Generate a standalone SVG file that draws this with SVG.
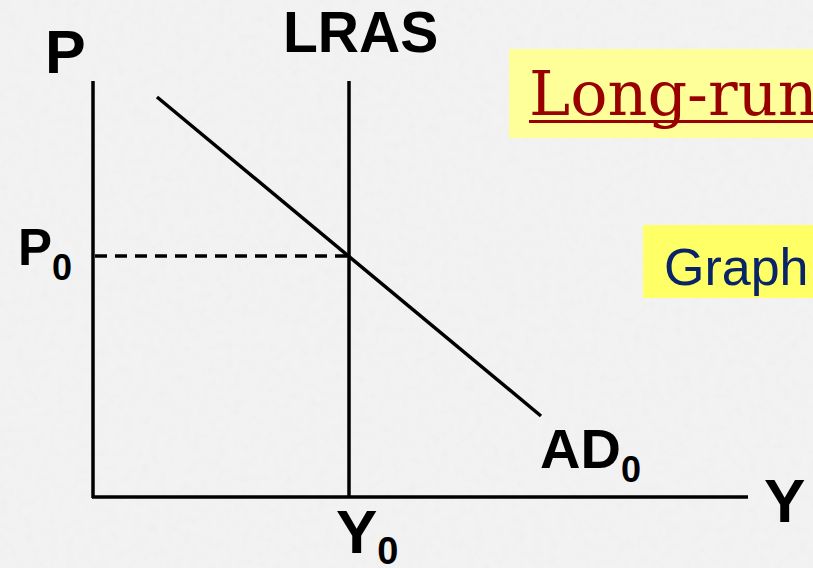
<svg xmlns="http://www.w3.org/2000/svg" width="813" height="568" viewBox="0 0 813 568">
<defs>
<filter id="paper" x="0" y="0" width="100%" height="100%">
<feTurbulence type="fractalNoise" baseFrequency="0.12" numOctaves="3" seed="4" result="n"/>
<feColorMatrix in="n" type="matrix" values="0 0 0 0 0.85  0 0 0 0 0.85  0 0 0 0 0.85  0 0 0 -2 1.05" result="t"/>
<feComposite in="t" in2="SourceGraphic" operator="in"/>
</filter>
</defs>
<style>
.ax{stroke:#000;stroke-width:3.5;fill:none}
.lbl{font-family:"Liberation Sans",Arial,sans-serif;font-weight:bold;fill:#000}
</style>
<rect width="813" height="568" fill="#f2f2f2"/>
<rect width="813" height="568" fill="#ffffff" filter="url(#paper)" opacity="0.7"/>
<g id="title">
<rect x="509" y="49" width="304" height="89" fill="#ffff99"/>
<text x="529" y="115" font-family="DejaVu Serif,Georgia,serif" font-size="62" fill="#990000">Long-run</text>
<rect x="529" y="120" width="284" height="3" fill="#990000"/>
</g>
<g id="graph-box">
<rect x="643" y="225" width="170" height="73" fill="#ffff66"/>
<text x="664" y="285" font-family="Liberation Sans,Arial,sans-serif" font-size="52" fill="#0a2468">Graph</text>
</g>
<g id="connectors">
<line class="ax" x1="93" y1="81" x2="93" y2="498"/>
<line class="ax" x1="92" y1="497" x2="748" y2="497"/>
<line class="ax" x1="349" y1="81" x2="349" y2="498"/>
<line class="ax" x1="157" y1="97" x2="541" y2="416"/>
<line class="ax" x1="95" y1="256" x2="349" y2="256" stroke-dasharray="12 8"/>
</g>
<g id="label-P"><text class="lbl" x="45" y="73" font-size="61">P</text></g>
<g id="label-LRAS"><text class="lbl" x="283" y="52" font-size="57">LRAS</text></g>
<g id="label-P0"><text class="lbl" x="18" y="265" font-size="51">P<tspan font-size="36" dy="15">0</tspan></text></g>
<g id="label-AD0"><text class="lbl" x="540" y="468" font-size="56">AD<tspan font-size="36" dy="14">0</tspan></text></g>
<g id="label-Y"><text class="lbl" x="764" y="522" font-size="62">Y</text></g>
<g id="label-Y0"><text class="lbl" x="336" y="553" font-size="62">Y<tspan font-size="38" dy="11">0</tspan></text></g>
</svg>
